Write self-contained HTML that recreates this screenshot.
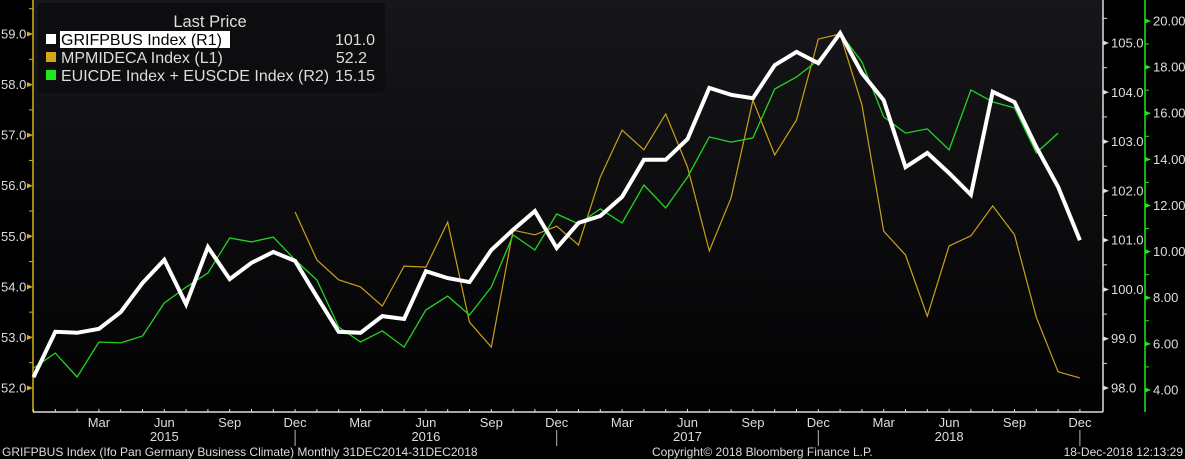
<!DOCTYPE html>
<html><head><meta charset="utf-8">
<style>
html,body{margin:0;padding:0;background:#000;}
svg{display:block;font-family:"Liberation Sans",sans-serif;}
</style></head>
<body>
<svg id="chart" width="1185" height="459" viewBox="0 0 1185 459">
<defs><linearGradient id="bg" x1="0" y1="0" x2="0" y2="1"><stop offset="0" stop-color="#17171b"/><stop offset="1" stop-color="#020203"/></linearGradient></defs>
<rect x="0" y="0" width="1185" height="459" fill="#000"/>
<rect x="33" y="0" width="1070" height="412" fill="url(#bg)"/>
<g id="axes"></g>
<g id="series"></g>
<g>
<rect x="38" y="3" width="347" height="90" rx="3" fill="#0d0d0f"/>
<text x="210" y="27" fill="#ddd" font-size="16.5" text-anchor="middle">Last Price</text>
<g>
<rect x="46" y="34" width="10" height="10" fill="#fff"/>
<rect x="60" y="31" width="170" height="17" fill="#fff"/>
<text x="61" y="45" fill="#000" font-size="16">GRIFPBUS Index  (R1)</text>
<text x="375" y="45" fill="#ddd" font-size="16" text-anchor="end">101.0</text></g>
<g>
<rect x="46" y="52" width="10" height="10" fill="#d4a814"/>
<text x="61" y="63" fill="#ddd" font-size="16">MPMIDECA Index  (L1)</text>
<text x="367" y="63" fill="#ddd" font-size="16" text-anchor="end">52.2</text></g>
<g>
<rect x="46" y="70" width="10" height="10" fill="#1ee81e"/>
<text x="61" y="81" fill="#ddd" font-size="16">EUICDE Index + EUSCDE Index  (R2)</text>
<text x="375" y="81" fill="#ddd" font-size="16" text-anchor="end">15.15</text></g>
</g>
<text x="2" y="456" fill="#ddd" font-size="12">GRIFPBUS Index (Ifo Pan Germany Business Climate)  Monthly 31DEC2014-31DEC2018</text>
<text x="652" y="456" fill="#ddd" font-size="12">Copyright© 2018 Bloomberg Finance L.P.</text>
<text x="1183" y="456" fill="#ddd" font-size="12" text-anchor="end">18-Dec-2018 12:13:29</text>
</svg>
<script>
const months=["Dec","Jan","Feb","Mar","Apr","May","Jun","Jul","Aug","Sep","Oct","Nov"];
const grifpbus=[98.22,99.14,99.12,99.20,99.54,100.13,100.60,99.70,100.86,100.21,100.54,100.76,100.58,
99.85,99.14,99.12,99.46,99.40,100.37,100.23,100.15,100.80,101.21,101.59,100.84,
101.35,101.49,101.88,102.63,102.63,103.05,104.09,103.95,103.88,104.55,104.82,104.59,
105.20,104.39,103.84,102.48,102.77,102.36,101.92,104.01,103.80,102.89,102.08,101.0];
const euicde=[4.95,5.60,4.56,6.08,6.04,6.34,7.77,8.46,9.07,10.59,10.42,10.63,9.64,
8.77,6.73,6.08,6.56,5.86,7.47,8.07,7.25,8.46,10.72,10.07,11.63,
11.20,11.85,11.24,12.89,11.89,13.23,14.97,14.75,14.93,17.05,17.57,18.31,
19.48,18.22,15.84,15.14,15.32,14.41,17.01,16.49,16.23,14.28,15.14,null];
const mpmideca=[null,null,null,null,null,null,null,null,null,null,null,null,55.48,
54.53,54.14,54.0,53.62,54.41,54.39,55.28,53.30,52.81,55.12,55.03,55.20,
54.83,56.17,57.10,56.71,57.42,56.37,54.71,55.76,57.69,56.61,57.30,58.90,
59.0,57.60,55.10,54.63,53.42,54.81,55.01,55.60,55.03,53.40,52.32,52.2];
const leftTicks=[52,53,54,55,56,57,58,59];
const r1Ticks=[98,99,100,101,102,103,104,105];
const r2Ticks=[4,6,8,10,12,14,16,18,20];
const yearLabels=["2015","2016","2017","2018"];

const NS="http://www.w3.org/2000/svg";
const X0=33.5,DX=21.8;
const xAt=i=>X0+i*DX;
const yL=v=>34+(59-v)*50.57;
const yR1=v=>43+(105-v)*49.29;
const yR2=v=>21+(20-v)*23.06;
function mk(tag,attrs,parent){const e=document.createElementNS(NS,tag);for(const k in attrs)e.setAttribute(k,attrs[k]);parent.appendChild(e);return e;}
const ax=document.getElementById('axes'),sg=document.getElementById('series');

mk('line',{x1:33,y1:0,x2:33,y2:412,stroke:'#d4b020','stroke-width':1.5},ax);
leftTicks.forEach(v=>{const y=yL(v);
 mk('path',{d:`M27 ${y-2.5}L33 ${y}L27 ${y+2.5}Z`,fill:'#d4b020'},ax);
 const t=mk('text',{x:1,y:y+4.5,fill:'#ddd','font-size':13},ax);t.textContent=v.toFixed(1);
 
 
 const m=yL(v+0.5); if(m>2) mk('line',{x1:29,y1:m,x2:33,y2:m,stroke:'#d4b020'},ax);
});
mk('line',{x1:1103,y1:0,x2:1103,y2:412,stroke:'#ddd','stroke-width':1.5},ax);
r1Ticks.forEach(v=>{const y=yR1(v);
 mk('path',{d:`M1103 ${y-2.5}L1109 ${y}L1103 ${y+2.5}Z`,fill:'#ddd'},ax);
 const t=mk('text',{x:1111,y:y+4.5,fill:'#ddd','font-size':13},ax);t.textContent=v.toFixed(1);
 
 
 const m=yR1(v+0.5); if(m>2) mk('line',{x1:1103,y1:m,x2:1107,y2:m,stroke:'#ddd'},ax);
});
mk('line',{x1:1145,y1:0,x2:1145,y2:412,stroke:'#1ee81e','stroke-width':1.5},ax);
r2Ticks.forEach(v=>{const y=yR2(v);
 mk('path',{d:`M1145 ${y-2.5}L1151 ${y}L1145 ${y+2.5}Z`,fill:'#1ee81e'},ax);
 const t=mk('text',{x:1153,y:y+4.5,fill:'#ddd','font-size':13},ax);t.textContent=v.toFixed(2);
 
 
 const m=yR2(v+1); if(m>2) mk('line',{x1:1145,y1:m,x2:1149,y2:m,stroke:'#1ee81e'},ax);
});
mk('line',{x1:33,y1:412,x2:1103,y2:412,stroke:'#ddd','stroke-width':1.5},ax);
for(let i=0;i<grifpbus.length;i++){const x=xAt(i);
 mk('line',{x1:x,y1:409,x2:x,y2:412,stroke:'#ddd'},ax);
 const mo=months[i%12];
 if(i>0 && (mo==="Mar"||mo==="Jun"||mo==="Sep"||mo==="Dec")){
  const t=mk('text',{x:x,y:427,fill:'#ddd','font-size':13,'text-anchor':'middle'},ax);t.textContent=mo;
  
  
  if(mo==="Dec") mk('line',{x1:x,y1:430,x2:x,y2:446,stroke:'#bbb'},ax);
 }
}
yearLabels.forEach((y,k)=>{const t=mk('text',{x:xAt(6+12*k),y:441,fill:'#ddd','font-size':13,'text-anchor':'middle'},ax);t.textContent=y;
 
 });

function line(arr,fy,color,w,name){
 let d="";arr.forEach((v,i)=>{if(v==null)return;d+=(d?"L":"M")+xAt(i).toFixed(1)+" "+fy(v).toFixed(1);});
 const p=mk('path',{d:d,fill:'none',stroke:color,'stroke-width':w,'stroke-linejoin':'miter'},sg);
 
 
}
line(mpmideca,yL,'#c9a01a',1.2,'mpmideca-line');
line(euicde,yR2,'#22d422',1.3,'euicde-line');
line(grifpbus,yR1,'#ffffff',4,'grifpbus-line');
</script>
</body></html>
